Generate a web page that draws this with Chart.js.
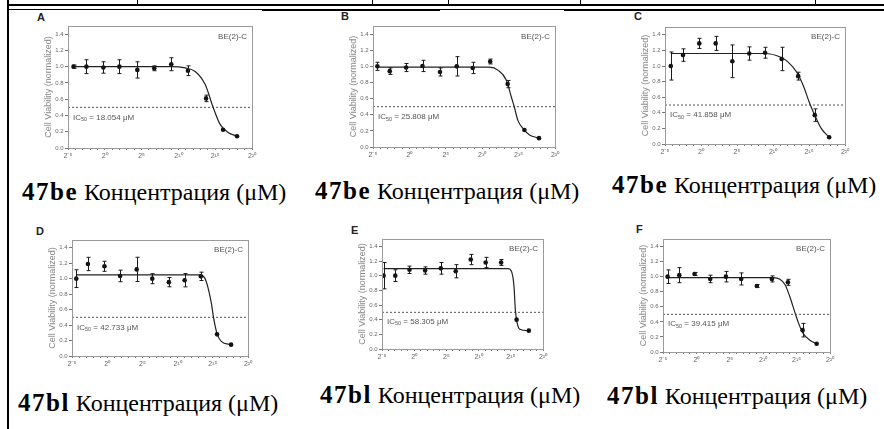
<!DOCTYPE html>
<html>
<head>
<meta charset="utf-8">
<script src="https://cdn.jsdelivr.net/npm/chart.js@4"></script>
<style>
  body { margin: 0; background: #fff; }
  #page { position: relative; width: 884px; height: 429px; overflow: hidden; background: #fff; }
  .ln { position: absolute; background: #000; }
  canvas { position: absolute; }
  .letter { position: absolute; font: bold 11px "Liberation Sans", Arial, sans-serif; line-height: 11px; color: #222; }
  .cap { position: absolute; font: 24px "Liberation Serif", "Times New Roman", serif; line-height: 24px; color: #000; white-space: nowrap; }
  .cap b { font-size: 25px; letter-spacing: 1.5px; }
</style>
</head>
<body>
<div id="page">
  <!-- остатки рамки таблицы сверху -->
  <div class="ln" style="left:8px;top:4px;width:876px;height:2px"></div>
  <div class="ln" style="left:8px;top:9px;width:876px;height:1px"></div>
  <div class="ln" style="left:262px;top:9px;width:178px;height:2px"></div>
  <div class="ln" style="left:564px;top:9px;width:320px;height:2px"></div>
  <div class="ln" style="left:7px;top:0;width:2px;height:429px"></div>
  <div class="ln" style="left:137px;top:0;width:1px;height:5px"></div>
  <div class="ln" style="left:372px;top:0;width:1px;height:5px"></div>
  <div class="ln" style="left:448px;top:0;width:1px;height:5px"></div>
  <div class="ln" style="left:580px;top:0;width:1px;height:5px"></div>
  <div class="ln" style="left:815px;top:0;width:1px;height:5px"></div>

  <div class="letter" style="left:37px;top:12px">A</div>
  <div class="letter" style="left:341px;top:11px">B</div>
  <div class="letter" style="left:634px;top:11px">C</div>
  <div class="letter" style="left:36px;top:226px">D</div>
  <div class="letter" style="left:351px;top:225px">E</div>
  <div class="letter" style="left:636px;top:224px">F</div>

  <canvas id="chart_a" width="230" height="142" style="left:32px;top:20px"></canvas>
  <canvas id="chart_b" width="228" height="141" style="left:337px;top:20px"></canvas>
  <canvas id="chart_c" width="226" height="137" style="left:629px;top:21px"></canvas>
  <canvas id="chart_d" width="222" height="136" style="left:36px;top:234px"></canvas>
  <canvas id="chart_e" width="207" height="130" style="left:346px;top:233px"></canvas>
  <canvas id="chart_f" width="213" height="133" style="left:627px;top:233px"></canvas>

  <div class="cap" style="left:22px;top:180px"><b>47be</b> Концентрация (μM)</div>
  <div class="cap" style="left:315px;top:179px"><b>47be</b> Концентрация (μM)</div>
  <div class="cap" style="left:612px;top:173px"><b>47be</b> Концентрация (μM)</div>
  <div class="cap" style="left:18px;top:391px"><b>47bl</b> Концентрация (μM)</div>
  <div class="cap" style="left:320px;top:383px"><b>47bl</b> Концентрация (μM)</div>
  <div class="cap" style="left:607px;top:384px"><b>47bl</b> Концентрация (μM)</div>
</div>

<script>
// данные: x = log2(концентрации), y = жизнеспособность, err = SD
const xA = [-4.25, -2.5, -0.19, 1.98, 4.42, 6.72, 9.03, 11.3, 13.76, 16.07, 17.97];
const yA = [1.0, 1.0, 0.99, 1.0, 0.96, 0.98, 1.03, 0.95, 0.61, 0.225, 0.145];
const errA = [0.02, 0.085, 0.07, 0.085, 0.1, 0.03, 0.08, 0.06, 0.04, 0.015, 0.01];
const curveXA = [-4.25, 9.0, 10.92, 12.28, 13.64, 14.72, 15.67, 16.75, 17.97];
const curveYA = [1.0, 1.0, 0.985, 0.94, 0.78, 0.5, 0.29, 0.19, 0.145];

const xB = [-4.4, -2.7, -0.45, 1.8, 4.2, 6.5, 8.7, 11.1, 13.5, 15.8, 17.8];
const yB = [1.0, 0.94, 0.985, 1.005, 0.93, 1.0, 0.98, 1.06, 0.78, 0.21, 0.11];
const errB = [0.05, 0.04, 0.05, 0.07, 0.05, 0.12, 0.07, 0.03, 0.045, 0.01, 0.01];
const curveXB = [-4.4, 11.0, 12.2, 13.3, 14.0, 14.4, 14.9, 15.6, 16.5, 17.8];
const curveYB = [0.99, 0.99, 0.95, 0.83, 0.62, 0.5, 0.33, 0.23, 0.15, 0.11];

const xC = [-4.2, -2.5, -0.24, 2.04, 4.35, 6.7, 8.9, 11.2, 13.5, 15.8, 17.8];
const yC = [1.0, 1.14, 1.29, 1.29, 1.06, 1.16, 1.17, 1.09, 0.87, 0.37, 0.086];
const errC = [0.18, 0.08, 0.065, 0.09, 0.21, 0.085, 0.07, 0.15, 0.05, 0.08, 0.01];
const curveXC = [-4.2, 8.9, 11.0, 12.1, 13.3, 14.2, 15.1, 15.8, 16.7, 17.8];
const curveYC = [1.16, 1.16, 1.115, 1.05, 0.92, 0.75, 0.52, 0.37, 0.2, 0.086];

const xD = [-4.39, -2.74, -0.39, 1.83, 4.19, 6.4, 8.76, 11.0, 13.3, 15.6, 17.6];
const yD = [1.0, 1.19, 1.16, 1.035, 1.12, 1.0, 0.955, 0.98, 1.03, 0.28, 0.147];
const errD = [0.115, 0.086, 0.065, 0.075, 0.157, 0.065, 0.06, 0.086, 0.054, 0.015, 0.01];
const curveXD = [-4.39, 13.15, 13.85, 14.3, 14.8, 15.1, 15.6, 16.2, 17.6];
const curveYD = [1.05, 1.05, 1.01, 0.89, 0.68, 0.5, 0.29, 0.19, 0.147];

const xE = [-4.75, -2.94, -0.73, 1.7, 4.13, 6.45, 8.78, 11.1, 13.5, 15.9, 17.8];
const yE = [1.0, 1.0, 1.08, 1.07, 1.1, 1.06, 1.22, 1.18, 1.18, 0.4, 0.25];
const errE = [0.18, 0.08, 0.05, 0.05, 0.08, 0.09, 0.07, 0.07, 0.04, 0.015, 0.01];
const curveXE = [-4.75, 14.6, 15.1, 15.5, 15.7, 16.0, 16.4, 17.8];
const curveYE = [1.095, 1.095, 1.06, 0.85, 0.54, 0.35, 0.27, 0.25];

const xF = [-4.31, -2.56, -0.28, 2.07, 4.42, 6.7, 9.05, 11.3, 13.7, 15.9, 18.0];
const yF = [1.0, 1.02, 1.036, 0.97, 1.0, 0.97, 0.876, 0.97, 0.925, 0.29, 0.11];
const errF = [0.09, 0.1, 0.02, 0.05, 0.07, 0.08, 0.02, 0.04, 0.04, 0.09, 0.01];
const curveXF = [-4.31, 11.5, 12.5, 13.3, 14.0, 14.8, 15.3, 16.0, 17.0, 18.0];
const curveYF = [0.987, 0.987, 0.965, 0.89, 0.73, 0.51, 0.38, 0.245, 0.156, 0.11];

const ic50Values = ["18.054", "25.808", "41.858", "42.733", "58.305", "39.415"];
const cellLine = "BE(2)-C";
const halfLevel = 0.5;
const xRange = [-5, 20];
const yRange = [0, 1.5];

const FONT = "'Liberation Sans', Arial, sans-serif";
const SUP = { "-": "⁻", 0: "⁰", 1: "¹", 2: "²", 3: "³", 4: "⁴", 5: "⁵", 6: "⁶", 7: "⁷", 8: "⁸", 9: "⁹" };
const pow2Label = (v) => "2" + String(v).split("").map((c) => SUP[c]).join("");

// рамка + подписи внутри графика + планки погрешностей
const panelPlugin = {
  id: "panelDeco",
  afterDatasetsDraw: (chart) => {
    const { ctx, chartArea: { left, right, top, bottom }, scales: { x, y } } = chart;
    const deco = chart.options.plugins.panelDeco;

    // error bars
    ctx.save();
    ctx.strokeStyle = "#1a1a1a";
    ctx.lineWidth = 1;
    deco.xs.forEach((xv, i) => {
      const px = Math.round(x.getPixelForValue(xv)) + 0.5;
      const y1 = y.getPixelForValue(deco.ys[i] + deco.errs[i]);
      const y2 = y.getPixelForValue(deco.ys[i] - deco.errs[i]);
      if (y2 - y1 < 3) return;
      ctx.beginPath();
      ctx.moveTo(px, y1);
      ctx.lineTo(px, y2);
      ctx.moveTo(px - 2, y1);
      ctx.lineTo(px + 2, y1);
      ctx.moveTo(px - 2, y2);
      ctx.lineTo(px + 2, y2);
      ctx.stroke();
    });

    // рамка
    ctx.strokeStyle = "#9a9a9a";
    ctx.strokeRect(Math.round(left) + 0.5, Math.round(top) + 0.5, Math.round(right - left), Math.round(bottom - top));

    // BE(2)-C
    ctx.fillStyle = "#555";
    ctx.font = "8px " + FONT;
    ctx.textAlign = "right";
    ctx.textBaseline = "middle";
    ctx.fillText(cellLine, right - 5, y.getPixelForValue(1.37));

    // IC50 = ...
    const ty = y.getPixelForValue(0.37);
    let tx = left + 5;
    ctx.textAlign = "left";
    ctx.fillText("IC", tx, ty);
    tx += ctx.measureText("IC").width;
    ctx.font = "5.5px " + FONT;
    ctx.fillText("50", tx, ty + 2);
    tx += ctx.measureText("50").width;
    ctx.font = "8px " + FONT;
    ctx.fillText(" = " + deco.ic50 + " μM", tx, ty);
    ctx.restore();
  },
};

function makeChart(id, xs, ys, errs, cx, cy, ic50) {
  return new Chart(document.getElementById(id), {
    type: "line",
    data: {
      datasets: [
        {
          // точки
          data: xs.map((v, i) => ({ x: v, y: ys[i] })),
          showLine: false,
          pointRadius: 2.3,
          pointBackgroundColor: "#111",
          pointBorderWidth: 0,
        },
        {
          // подгоночная кривая
          data: cx.map((v, i) => ({ x: v, y: cy[i] })),
          borderColor: "#222",
          borderWidth: 1.2,
          pointRadius: 0,
          cubicInterpolationMode: "monotone",
        },
        {
          // уровень 0.5
          data: xRange.map((v) => ({ x: v, y: halfLevel })),
          borderColor: "#555",
          borderWidth: 1,
          borderDash: [2, 2],
          pointRadius: 0,
        },
      ],
    },
    options: {
      responsive: false,
      animation: false,
      events: [],
      layout: { padding: { left: 0, top: 6, right: 10, bottom: 0 } },
      plugins: {
        legend: { display: false },
        tooltip: { enabled: false },
        panelDeco: { xs, ys, errs, ic50 },
      },
      scales: {
        x: {
          type: "linear",
          min: xRange[0],
          max: xRange[1],
          afterFit: (s) => { s.height = 14; },
          grid: { drawOnChartArea: false, tickLength: 2, color: "#777" },
          border: { color: "#777" },
          ticks: {
            stepSize: 1,
            autoSkip: false,
            maxRotation: 0,
            padding: 2,
            color: "#666",
            font: { size: 7, family: FONT },
            callback: (v) => (v % 5 === 0 ? pow2Label(v) : ""),
          },
        },
        y: {
          min: yRange[0],
          max: yRange[1],
          afterFit: (s) => { s.width = 36; },
          grid: { drawOnChartArea: false, tickLength: 3, color: "#777" },
          border: { color: "#777" },
          ticks: {
            stepSize: 0.2,
            includeBounds: false,
            padding: 1.5,
            color: "#666",
            font: { size: 6, family: FONT },
            callback: (v) => v.toFixed(1),
          },
          title: {
            display: true,
            text: "Cell Viability (normalized)",
            color: "#888",
            font: { size: 9, family: FONT },
            padding: { top: 11, bottom: 0 },
          },
        },
      },
    },
    plugins: [panelPlugin],
  });
}

makeChart("chart_a", xA, yA, errA, curveXA, curveYA, ic50Values[0]);
makeChart("chart_b", xB, yB, errB, curveXB, curveYB, ic50Values[1]);
makeChart("chart_c", xC, yC, errC, curveXC, curveYC, ic50Values[2]);
makeChart("chart_d", xD, yD, errD, curveXD, curveYD, ic50Values[3]);
makeChart("chart_e", xE, yE, errE, curveXE, curveYE, ic50Values[4]);
makeChart("chart_f", xF, yF, errF, curveXF, curveYF, ic50Values[5]);
</script>
</body>
</html>
